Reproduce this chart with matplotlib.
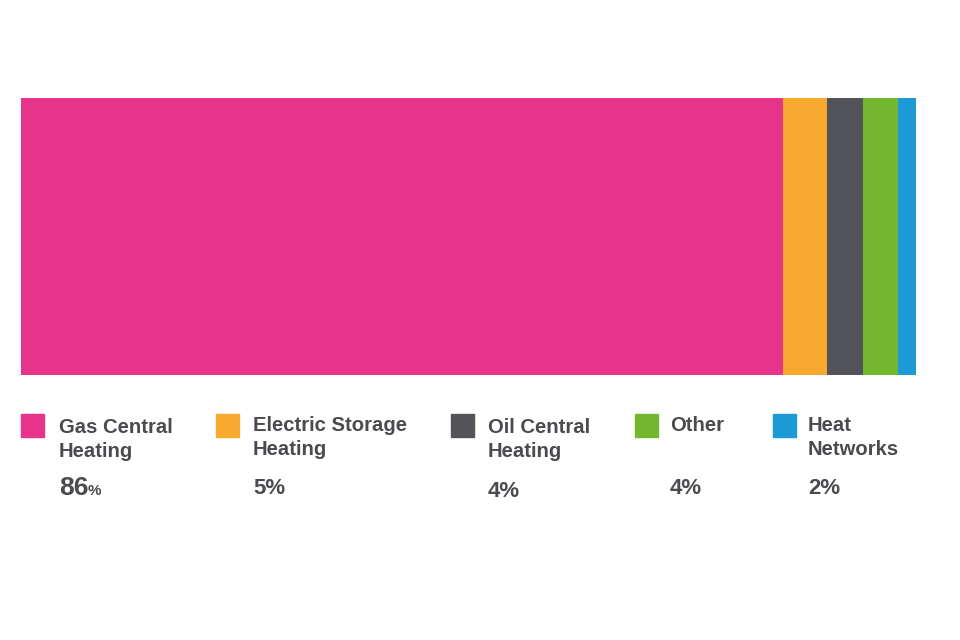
import matplotlib.pyplot as plt
from matplotlib.patches import Rectangle

# heating types, share of homes (%)
categories = ["Gas Central\nHeating", "Electric Storage\nHeating", "Oil Central\nHeating",
              "Other", "Heat\nNetworks"]
values = [86, 5, 4, 4, 2]
colors = ["#e8338a", "#f7a92f", "#535459", "#72b72d", "#1b9ad6"]

W, H = 960, 640
TEXT = "#4a4a4f"
FONT = ["Liberation Sans", "DejaVu Sans"]

fig = plt.figure(figsize=(W / 100, H / 100), dpi=100)
fig.patch.set_facecolor("white")


def fx(px):
    return px / W


def fy(py):
    return 1 - py / H


# stacked bar
ax = fig.add_axes([fx(21), fy(375), fx(916) - fx(21), fy(98) - fy(375)])
left = 0
for v, c in zip(values, colors):
    ax.barh(0, v, left=left, height=1, color=c, edgecolor="none")
    left += v
ax.set_xlim(0, sum(values))
ax.set_ylim(-0.5, 0.5)
ax.axis("off")

# legend blocks under the bar
box_x = [21, 216, 451, 635, 773]
text_x = [59, 253, 488, 670, 808]
line1_y = [433, 431, 433, 431, 431]
pct_y = [495, 494, 497, 494, 494]

for i, (cat, v, c) in enumerate(zip(categories, values, colors)):
    fig.patches.append(Rectangle((fx(box_x[i]), fy(437)), 23 / W, 23 / H,
                                 transform=fig.transFigure, color=c, zorder=3))
    for j, line in enumerate(cat.split("\n")):
        fig.text(fx(text_x[i]), fy(line1_y[i] + 24 * j), line, fontsize=14.6,
                 fontweight="bold", color=TEXT, family=FONT, va="baseline")
    if i == 0:
        # first value is shown larger with a small % sign
        t = fig.text(fx(text_x[i]), fy(pct_y[i]), str(v), fontsize=19,
                     fontweight="bold", color=TEXT, family=FONT, va="baseline")
        fig.canvas.draw()
        bb = t.get_window_extent()
        fig.text(bb.x1 / W - 1 / W, fy(pct_y[i]), "%", fontsize=11,
                 fontweight="bold", color=TEXT, family=FONT, va="baseline")
    else:
        fig.text(fx(text_x[i]), fy(pct_y[i]), f"{v}%", fontsize=16,
                 fontweight="bold", color=TEXT, family=FONT, va="baseline")

fig.savefig("out.png", dpi=100, facecolor="white")
